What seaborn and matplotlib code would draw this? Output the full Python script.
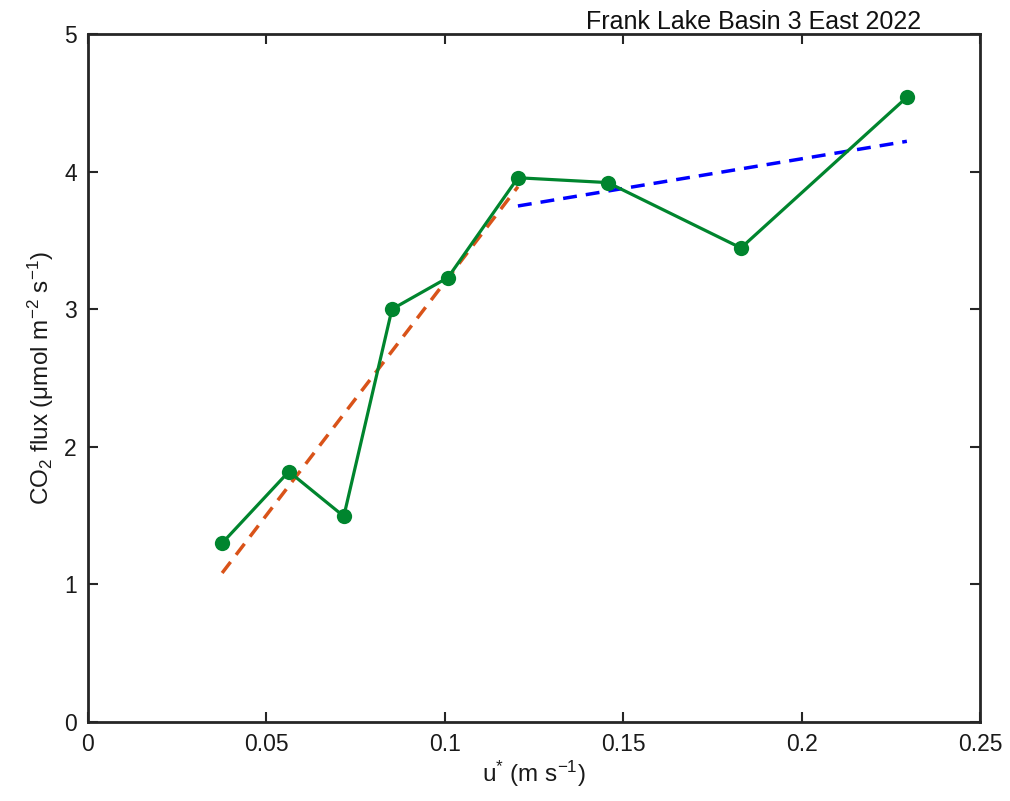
import matplotlib
matplotlib.use("Agg")
import matplotlib.pyplot as plt
import seaborn as sns
import pandas as pd

ustar = [0.0376, 0.0563, 0.0717, 0.0852, 0.1009, 0.1205, 0.1457, 0.1830, 0.2295]
flux = [1.30, 1.82, 1.495, 3.00, 3.23, 3.955, 3.92, 3.445, 4.54]
fit1_x = [0.0376, 0.1205]
fit1_y = [1.083, 3.89]
fit2_x = [0.1205, 0.2295]
fit2_y = [3.75, 4.22]
xticks = [0, 0.05, 0.1, 0.15, 0.2, 0.25]
xticklabels = ["0", "0.05", "0.1", "0.15", "0.2", "0.25"]
yticks = [0, 1, 2, 3, 4, 5]
title = "Frank Lake Basin 3 East 2022"

sns.set_style("white")
plt.rcParams['font.family'] = ['Liberation Sans', 'DejaVu Sans']
plt.rcParams['mathtext.fontset'] = 'custom'
plt.rcParams['mathtext.rm'] = 'Liberation Sans'
plt.rcParams['mathtext.it'] = 'Liberation Sans'

fig = plt.figure(figsize=(10.1, 8.01), dpi=100)
ax = fig.add_axes([0.0871, 0.0986, 0.8832, 0.859])

df = pd.DataFrame({"x": ustar, "y": flux})
sns.lineplot(data=pd.DataFrame({"x": fit1_x, "y": fit1_y}), x="x", y="y", ax=ax,
             color="#D95319", lw=2.5, linestyle=(0, (4.0, 2.6)))
sns.lineplot(data=pd.DataFrame({"x": fit2_x, "y": fit2_y}), x="x", y="y", ax=ax,
             color="#0000FF", lw=2.5, linestyle=(0, (4.0, 2.6)))
sns.lineplot(data=df, x="x", y="y", ax=ax, color="#00852E", lw=2.3,
             marker="o", markersize=11, markeredgewidth=0, sort=False)

ax.set_xlim(0, 0.25)
ax.set_ylim(0, 5)
ax.set_xticks(xticks)
ax.set_xticklabels(xticklabels)
ax.set_yticks(yticks)
ax.tick_params(direction="in", length=7, width=1.5, colors="#262626",
               labelsize=16.5, top=True, right=True, bottom=True, left=True,
               labelcolor="#1a1a1a", pad=8)
for s in ax.spines.values():
    s.set_visible(True)
    s.set_linewidth(2.0)
    s.set_color("#262626")
ax.set_xlabel(r"u$^{*}$ (m s$^{-1}$)", fontsize=17.5, labelpad=2, color="#1a1a1a")
ax.set_ylabel(r"CO$_2$ flux (μmol m$^{-2}$ s$^{-1}$)", fontsize=17.5, labelpad=6, color="#1a1a1a")
fig.text(0.9125, 1 - 29/801, title, ha="right", va="baseline", fontsize=18, color="#111111")

fig.savefig("out.png", dpi=100)
